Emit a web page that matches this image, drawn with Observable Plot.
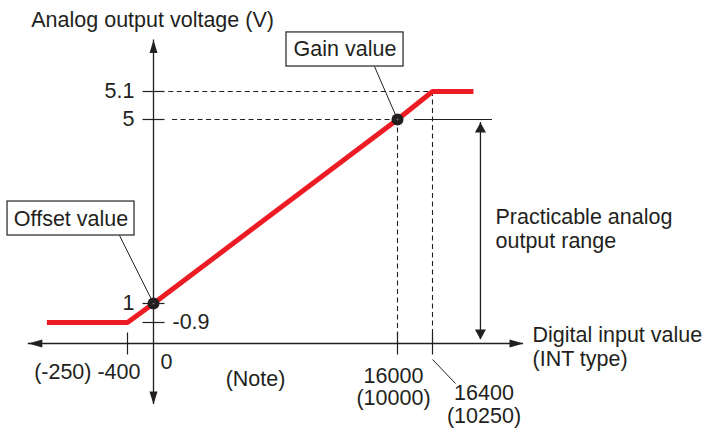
<!DOCTYPE html>
<html><head><meta charset="utf-8">
<script src="https://cdn.jsdelivr.net/npm/d3@7"></script>
<script src="https://cdn.jsdelivr.net/npm/@observablehq/plot@0.6"></script>
<style>html,body{margin:0;padding:0;background:#fff;}</style>
</head><body><div id="chart"></div>
<script>
// Schematic (piecewise) breakpoints of both axes, in data units
const xBreaks = [-2400, -400, 0, 16000, 16400, 24000];
const yBreaks = [-3, 0, 0.9, 1, 5, 5.1, 6];

// Conversion characteristic: digital input value -> analog output voltage
const curveX = [-1700, -400, 0, 16000, 16400, 17570];
const curveY = [0.9, 0.9, 1, 5, 5.1, 5.1];

// Highlighted points
const pointNames = ["Offset value", "Gain value"];
const pointX = [0, 16000];
const pointY = [1, 5];

// Tick values and labels
const yTickValues = [5.1, 5, 1, 0.9];
const yTickLabels = ["5.1", "5", "1", "-0.9"];
const xTickValues = [-400, 16000, 16400];
const xTickLabels = ["(-250) -400", "16000\n(10000)", "16400\n(10250)"];
const zeroLabel = "0";

// Axis extents (data units)
const xAxisExtent = [-2000, 19000];
const yAxisExtent = [-2.1, 5.61];

// Dashed guides
const guidesH = [{y: 5.1, x1: 1000, x2: 16400}, {y: 5, x1: 1250, x2: 16000}];
const guidesV = [{x: 16000, y1: 5, y2: 0}, {x: 16400, y1: 5.1, y2: 0}];

// Annotation boxes (data units) and their leaders to the points
const boxes = [
  {name: "Offset value", x1: -2335, x2: -292, y1: 2.478, y2: 3.217, tx: -1311, ty: 2.826, lx: -529, ly: 2.478},
  {name: "Gain value", x1: 8721, x2: 16069, y1: 5.347, y2: 5.684, tx: 12557, ty: 5.515, lx: 14492, ly: 5.347}
];

// Practicable range bracket
const rangeBracket = {x: 17770, yLow: 0.171, yHigh: 4.935, y: 5, x1: 16194, x2: 18114};

// Free texts (data units)
const titleText = {text: "Analog output voltage (V)", x: -1952, y: 5.809};
const xTitleText = {text: "Digital input value\n(INT type)", x: 19257, y: -0.103};
const rangeText = {text: "Practicable analog\noutput range", x: 18200, y: 2.63};
const noteText = {text: "(Note)", x: 6689, y: -1.224};
const label16400 = {x: 17871, y: -2.086, lx1: 16400, ly1: -0.552, lx2: 17057, ly2: -1.379};

const ink = "#231f20";
const red = "#ed1c24";
const FS = 21.5;

function tri(dir, len, half) {
  return {draw(ctx) {
    const p = {
      up: [[0,0],[-half,len],[half,len]],
      down: [[0,0],[-half,-len],[half,-len]],
      left: [[0,0],[len,-half],[len,half]],
      right: [[0,0],[-len,-half],[-len,half]]
    }[dir];
    ctx.moveTo(p[0][0], p[0][1]); ctx.lineTo(p[1][0], p[1][1]); ctx.lineTo(p[2][0], p[2][1]); ctx.closePath();
  }};
}
const hTick = {draw(ctx) { ctx.moveTo(-11, 0); ctx.lineTo(11, 0); }};
const vTick = {draw(ctx) { ctx.moveTo(0, -11); ctx.lineTo(0, 11); }};

const curve = curveX.map((x, i) => ({x, y: curveY[i]}));
const points = pointX.map((x, i) => ({name: pointNames[i], x, y: pointY[i]}));
const yTicks = yTickValues.map((y, i) => ({y, label: yTickLabels[i]}));
const xTicks = xTickValues.map((x, i) => ({x, label: xTickLabels[i]}));

const txt = {fill: ink, fontSize: FS, stroke: null};

const chart = Plot.plot({
  width: 704,
  height: 430,
  margin: 0,
  style: {background: "white", fontFamily: "'Liberation Sans', Arial, Helvetica, sans-serif", color: ink},
  x: {type: "linear", domain: xBreaks, range: [3, 127, 153, 397, 432, 698], axis: null},
  y: {type: "linear", domain: yBreaks, range: [430, 343, 322, 303, 119, 91, 0], axis: null},
  marks: [
    // dashed guides
    Plot.ruleY(guidesH, {y: "y", x1: "x1", x2: "x2", stroke: ink, strokeWidth: 1.1, strokeDasharray: "5,3.5"}),
    Plot.ruleX(guidesV, {x: "x", y1: "y1", y2: "y2", stroke: ink, strokeWidth: 1.1, strokeDasharray: "5,3.5"}),
    // axes
    Plot.ruleY([0], {x1: xAxisExtent[0], x2: xAxisExtent[1], stroke: ink, strokeWidth: 1.3}),
    Plot.ruleX([0], {y1: yAxisExtent[0], y2: yAxisExtent[1], stroke: ink, strokeWidth: 1.3}),
    Plot.dot([{x: xAxisExtent[0], y: 0}], {x: "x", y: "y", symbol: tri("left", 14, 4), fill: ink, stroke: null}),
    Plot.dot([{x: xAxisExtent[1], y: 0}], {x: "x", y: "y", symbol: tri("right", 14, 4), fill: ink, stroke: null}),
    Plot.dot([{x: 0, y: yAxisExtent[1]}], {x: "x", y: "y", symbol: tri("up", 13, 4), fill: ink, stroke: null}),
    Plot.dot([{x: 0, y: yAxisExtent[0]}], {x: "x", y: "y", symbol: tri("down", 13, 4), fill: ink, stroke: null}),
    // ticks
    Plot.dot(yTicks, {x: 0, y: "y", symbol: hTick, fill: "none", stroke: ink, strokeWidth: 1.2}),
    Plot.dot(xTicks, {x: "x", y: 0, symbol: vTick, fill: "none", stroke: ink, strokeWidth: 1.2}),
    // tick labels
    Plot.text(yTicks.filter(d => d.y >= 1), {x: 0, y: "y", text: "label", textAnchor: "end", dx: -19, ...txt}),
    Plot.text(yTicks.filter(d => d.y < 1), {x: 0, y: "y", text: "label", textAnchor: "start", dx: 19, ...txt}),
    Plot.text([zeroLabel], {x: 0, y: 0, text: d => d, dx: 13, dy: 19, ...txt}),
    Plot.text(xTicks.filter(d => d.x === -400), {x: "x", y: 0, text: "label", textAnchor: "end", dx: 13, dy: 29, ...txt}),
    Plot.text(xTicks.filter(d => d.x === 16000), {x: "x", y: 0, text: "label", dx: -4, dy: 43, lineHeight: 1.03, ...txt}),
    Plot.text(xTicks.filter(d => d.x === 16400), {x: label16400.x, y: label16400.y, text: "label", lineHeight: 1.06, ...txt}),
    Plot.link([label16400], {x1: "lx1", y1: "ly1", x2: "lx2", y2: "ly2", stroke: ink, strokeWidth: 1}),
    // practicable range bracket
    Plot.ruleY([rangeBracket], {y: "y", x1: "x1", x2: "x2", stroke: ink, strokeWidth: 1.2}),
    Plot.ruleX([rangeBracket], {x: "x", y1: "yLow", y2: "yHigh", stroke: ink, strokeWidth: 1.3}),
    Plot.dot([rangeBracket], {x: "x", y: "yHigh", symbol: tri("up", 10, 5.5), fill: ink, stroke: null}),
    Plot.dot([rangeBracket], {x: "x", y: "yLow", symbol: tri("down", 10, 5.5), fill: ink, stroke: null}),
    // characteristic curve
    Plot.line(curve, {x: "x", y: "y", stroke: red, strokeWidth: 5, strokeLinecap: "butt", strokeLinejoin: "miter"}),
    // leaders and boxes
    Plot.link(boxes, {x1: "lx", y1: "ly", x2: d => points.find(p => p.name === d.name).x, y2: d => points.find(p => p.name === d.name).y, stroke: ink, strokeWidth: 1}),
    Plot.rect(boxes, {x1: "x1", x2: "x2", y1: "y1", y2: "y2", fill: "white", stroke: ink, strokeWidth: 1.2}),
    Plot.text(boxes, {x: "tx", y: "ty", text: "name", ...txt}),
    // points
    Plot.dot(points, {x: "x", y: "y", r: 6, fill: ink, stroke: null}),
    Plot.dot(points, {x: "x", y: "y", r: 0.9, fill: "#777", stroke: null}),
    // free texts
    Plot.text([titleText], {x: "x", y: "y", text: "text", textAnchor: "start", ...txt}),
    Plot.text([xTitleText], {x: "x", y: "y", text: "text", textAnchor: "start", lineHeight: 1.12, ...txt}),
    Plot.text([rangeText], {x: "x", y: "y", text: "text", textAnchor: "start", lineHeight: 1.12, ...txt}),
    Plot.text([noteText], {x: "x", y: "y", text: "text", ...txt})
  ]
});
document.getElementById("chart").append(chart);
</script>
</body></html>
